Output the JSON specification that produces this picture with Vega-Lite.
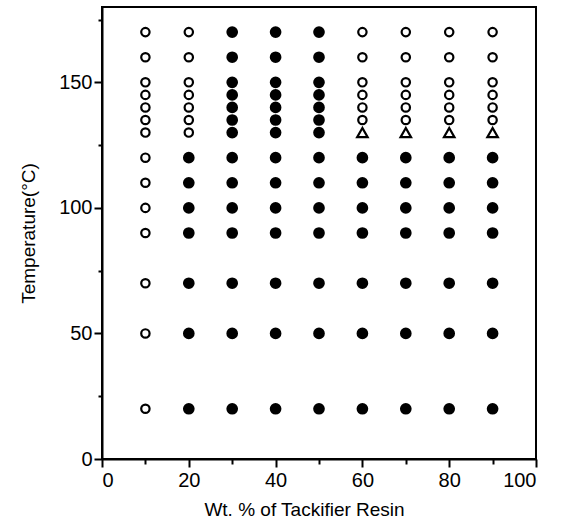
{
  "$schema": "https://vega.github.io/schema/vega-lite/v6.json",
  "width": 434,
  "height": 452,
  "autosize": {"type": "none"},
  "padding": {"left": 102, "top": 7, "right": 33, "bottom": 72},
  "background": "white",
  "config": {
    "view": {"stroke": "black", "strokeWidth": 2},
    "axis": {
      "grid": false,
      "domainColor": "black",
      "domainWidth": 2,
      "tickColor": "black",
      "tickWidth": 2,
      "labelColor": "black",
      "titleColor": "black",
      "labelFont": "Liberation Sans",
      "titleFont": "Liberation Sans",
      "labelFontSize": 20,
      "titleFontSize": 19,
      "titleFontWeight": "normal"
    }
  },
  "data": {
    "values": [
      {"w":10,"t":170,"s":"open"},{"w":10,"t":160,"s":"open"},{"w":10,"t":150,"s":"open"},{"w":10,"t":145,"s":"open"},{"w":10,"t":140,"s":"open"},{"w":10,"t":135,"s":"open"},{"w":10,"t":130,"s":"open"},{"w":10,"t":120,"s":"open"},{"w":10,"t":110,"s":"open"},{"w":10,"t":100,"s":"open"},{"w":10,"t":90,"s":"open"},{"w":10,"t":70,"s":"open"},{"w":10,"t":50,"s":"open"},{"w":10,"t":20,"s":"open"},
      {"w":20,"t":170,"s":"open"},{"w":20,"t":160,"s":"open"},{"w":20,"t":150,"s":"open"},{"w":20,"t":145,"s":"open"},{"w":20,"t":140,"s":"open"},{"w":20,"t":135,"s":"open"},{"w":20,"t":130,"s":"open"},{"w":20,"t":120,"s":"filled"},{"w":20,"t":110,"s":"filled"},{"w":20,"t":100,"s":"filled"},{"w":20,"t":90,"s":"filled"},{"w":20,"t":70,"s":"filled"},{"w":20,"t":50,"s":"filled"},{"w":20,"t":20,"s":"filled"},
      {"w":30,"t":170,"s":"filled"},{"w":30,"t":160,"s":"filled"},{"w":30,"t":150,"s":"filled"},{"w":30,"t":145,"s":"filled"},{"w":30,"t":140,"s":"filled"},{"w":30,"t":135,"s":"filled"},{"w":30,"t":130,"s":"filled"},{"w":30,"t":120,"s":"filled"},{"w":30,"t":110,"s":"filled"},{"w":30,"t":100,"s":"filled"},{"w":30,"t":90,"s":"filled"},{"w":30,"t":70,"s":"filled"},{"w":30,"t":50,"s":"filled"},{"w":30,"t":20,"s":"filled"},
      {"w":40,"t":170,"s":"filled"},{"w":40,"t":160,"s":"filled"},{"w":40,"t":150,"s":"filled"},{"w":40,"t":145,"s":"filled"},{"w":40,"t":140,"s":"filled"},{"w":40,"t":135,"s":"filled"},{"w":40,"t":130,"s":"filled"},{"w":40,"t":120,"s":"filled"},{"w":40,"t":110,"s":"filled"},{"w":40,"t":100,"s":"filled"},{"w":40,"t":90,"s":"filled"},{"w":40,"t":70,"s":"filled"},{"w":40,"t":50,"s":"filled"},{"w":40,"t":20,"s":"filled"},
      {"w":50,"t":170,"s":"filled"},{"w":50,"t":160,"s":"filled"},{"w":50,"t":150,"s":"filled"},{"w":50,"t":145,"s":"filled"},{"w":50,"t":140,"s":"filled"},{"w":50,"t":135,"s":"filled"},{"w":50,"t":130,"s":"filled"},{"w":50,"t":120,"s":"filled"},{"w":50,"t":110,"s":"filled"},{"w":50,"t":100,"s":"filled"},{"w":50,"t":90,"s":"filled"},{"w":50,"t":70,"s":"filled"},{"w":50,"t":50,"s":"filled"},{"w":50,"t":20,"s":"filled"},
      {"w":60,"t":170,"s":"open"},{"w":60,"t":160,"s":"open"},{"w":60,"t":150,"s":"open"},{"w":60,"t":145,"s":"open"},{"w":60,"t":140,"s":"open"},{"w":60,"t":135,"s":"open"},{"w":60,"t":130,"s":"triangle"},{"w":60,"t":120,"s":"filled"},{"w":60,"t":110,"s":"filled"},{"w":60,"t":100,"s":"filled"},{"w":60,"t":90,"s":"filled"},{"w":60,"t":70,"s":"filled"},{"w":60,"t":50,"s":"filled"},{"w":60,"t":20,"s":"filled"},
      {"w":70,"t":170,"s":"open"},{"w":70,"t":160,"s":"open"},{"w":70,"t":150,"s":"open"},{"w":70,"t":145,"s":"open"},{"w":70,"t":140,"s":"open"},{"w":70,"t":135,"s":"open"},{"w":70,"t":130,"s":"triangle"},{"w":70,"t":120,"s":"filled"},{"w":70,"t":110,"s":"filled"},{"w":70,"t":100,"s":"filled"},{"w":70,"t":90,"s":"filled"},{"w":70,"t":70,"s":"filled"},{"w":70,"t":50,"s":"filled"},{"w":70,"t":20,"s":"filled"},
      {"w":80,"t":170,"s":"open"},{"w":80,"t":160,"s":"open"},{"w":80,"t":150,"s":"open"},{"w":80,"t":145,"s":"open"},{"w":80,"t":140,"s":"open"},{"w":80,"t":135,"s":"open"},{"w":80,"t":130,"s":"triangle"},{"w":80,"t":120,"s":"filled"},{"w":80,"t":110,"s":"filled"},{"w":80,"t":100,"s":"filled"},{"w":80,"t":90,"s":"filled"},{"w":80,"t":70,"s":"filled"},{"w":80,"t":50,"s":"filled"},{"w":80,"t":20,"s":"filled"},
      {"w":90,"t":170,"s":"open"},{"w":90,"t":160,"s":"open"},{"w":90,"t":150,"s":"open"},{"w":90,"t":145,"s":"open"},{"w":90,"t":140,"s":"open"},{"w":90,"t":135,"s":"open"},{"w":90,"t":130,"s":"triangle"},{"w":90,"t":120,"s":"filled"},{"w":90,"t":110,"s":"filled"},{"w":90,"t":100,"s":"filled"},{"w":90,"t":90,"s":"filled"},{"w":90,"t":70,"s":"filled"},{"w":90,"t":50,"s":"filled"},{"w":90,"t":20,"s":"filled"}
    ]
  },
  "mark": {"type": "point", "filled": false, "stroke": "black", "strokeWidth": 2.2, "opacity": 1},
  "encoding": {
    "x": {
      "field": "w", "type": "quantitative",
      "scale": {"domain": [0, 100], "nice": false},
      "axis": {
        "title": "Wt. % of Tackifier Resin",
        "values": [0,10,20,30,40,50,60,70,80,90,100],
        "labelExpr": "datum.value % 20 === 0 ? datum.label : ''",
        "tickSize": {"condition": {"test": "datum.value % 20 === 0", "value": 8}, "value": 5},
        "labelPadding": 3,
        "titlePadding": 10,
        "titleX": 202
      }
    },
    "y": {
      "field": "t", "type": "quantitative",
      "scale": {"domain": [0, 180], "nice": false},
      "axis": {
        "title": "Temperature(°C)",
        "values": [0,25,50,75,100,125,150,175],
        "labelExpr": "datum.value % 50 === 0 ? datum.label : ''",
        "tickSize": {"condition": {"test": "datum.value % 50 === 0", "value": 8}, "value": 4},
        "labelPadding": 2,
        "titlePadding": 20
      }
    },
    "shape": {
      "field": "s", "type": "nominal",
      "scale": {"domain": ["open", "filled", "triangle"], "range": ["circle", "circle", "triangle-up"]},
      "legend": null
    },
    "fill": {
      "field": "s", "type": "nominal",
      "scale": {"domain": ["open", "filled", "triangle"], "range": ["white", "black", "white"]},
      "legend": null
    },
    "size": {
      "field": "s", "type": "nominal",
      "scale": {"domain": ["open", "filled", "triangle"], "range": [70, 110, 230]},
      "legend": null
    }
  }
}
